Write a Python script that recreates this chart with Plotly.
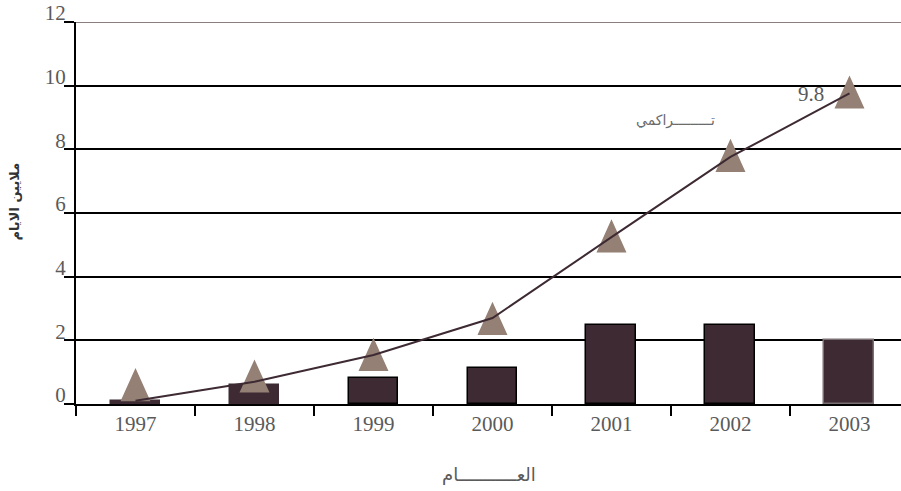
import plotly.graph_objects as go

years = ["1997", "1998", "1999", "2000", "2001", "2002", "2003"]
annual = [0.1, 0.6, 0.82, 1.13, 2.48, 2.48, 2.0]
cumulative_line = [0.1, 0.7, 1.54, 2.7, 5.24, 7.76, 9.76]
cumulative_markers = [0.61, 0.88, 1.56, 2.69, 5.28, 7.81, 9.8]
y_ticks = [0, 2, 4, 6, 8, 10, 12]
y_ticklabels = ["0", "2", "4", "6", "8", "10", "12"]
last_label = "9.8"
series_label = "تـــــــــراكمي"
x_title = "العـــــــــــام"
y_title = "ملايين الايام"

BAR = "#3d2a33"
TRI = "#948074"
TXT = "#5a5a5a"
SERIF = "'Liberation Serif', 'DejaVu Serif', serif"

xpos = list(range(len(years)))

fig = go.Figure()

bar_lines = [BAR, BAR, "black", "black", "black", "black", "#7a6f72"]
fig.add_trace(go.Bar(
    x=xpos, y=annual, width=0.42,
    marker=dict(color=BAR, line=dict(color=bar_lines, width=1.5)),
    hoverinfo="skip", showlegend=False,
))

# triangle markers (taller than equilateral), built from marker values
hw = 0.126   # half width in x units
hh = 0.52    # half height in y units
tx, ty = [], []
for i, v in zip(xpos, cumulative_markers):
    tx += [i - hw, i + hw, i, i - hw, None]
    ty += [v - hh, v - hh, v + hh, v - hh, None]
fig.add_trace(go.Scatter(
    x=tx, y=ty, mode="lines", fill="toself", fillcolor=TRI,
    line=dict(width=0, color=TRI), hoverinfo="skip", showlegend=False,
))

fig.add_trace(go.Scatter(
    x=xpos, y=cumulative_line, mode="lines",
    line=dict(color=BAR, width=2), hoverinfo="skip", showlegend=False,
))

fig.update_layout(
    width=901, height=491,
    margin=dict(l=76, r=0, t=22, b=87),
    paper_bgcolor="white", plot_bgcolor="white",
    bargap=0,
    xaxis=dict(
        range=[-0.5, 6.433],
        tickmode="array", tickvals=xpos, ticktext=years,
        ticks="", showgrid=False, zeroline=False,
        showline=True, linecolor="black", linewidth=2,
        tickfont=dict(family=SERIF, size=21, color=TXT),
        minor=dict(tick0=-0.5, dtick=1, ticks="outside", ticklen=10,
                   tickwidth=2, tickcolor="black", showgrid=False),
    ),
    yaxis=dict(
        range=[0, 12],
        tickmode="array", tickvals=y_ticks, ticktext=y_ticklabels,
        ticks="outside", ticklen=10, tickwidth=2, tickcolor="black",
        showgrid=True, gridcolor="black", gridwidth=2,
        zeroline=False,
        showline=True, linecolor="black", linewidth=2,
        tickfont=dict(family=SERIF, size=21, color=TXT),
        ticklabelshift=-9, ticklabelstandoff=-6,
        ticklabeloverflow="allow",
    ),
    shapes=[dict(type="line", xref="paper", yref="y", x0=0, x1=1,
                 y0=12, y1=12, line=dict(color="#8a7f80", width=2))],
    annotations=[
        dict(x=xpos[-1], y=cumulative_markers[-1], xref="x", yref="y",
             text=last_label, showarrow=False, xanchor="right", yanchor="middle",
             xshift=-23, yshift=-2,
             font=dict(family=SERIF, size=21, color=TXT)),
        dict(x=4.54, y=8.92, xref="x", yref="y", text=series_label,
             showarrow=False, xanchor="center", yanchor="middle",
             font=dict(family="DejaVu Sans", size=14, color="#6a6a6a")),
        dict(x=0.5, y=0, xref="paper", yref="paper", text=x_title,
             showarrow=False, xanchor="center", yanchor="middle", yshift=-70,
             font=dict(family="DejaVu Sans", size=18, color=TXT)),
        dict(x=0, y=0.53, xref="paper", yref="paper", text="<b>" + y_title + "</b>",
             showarrow=False, textangle=-90, xanchor="center", yanchor="middle",
             xshift=-61, font=dict(family="DejaVu Sans", size=13, color="#333333")),
    ],
)

fig.write_html("out.html",
               config={"displayModeBar": False},
               post_script="document.body.style.margin='0';")
